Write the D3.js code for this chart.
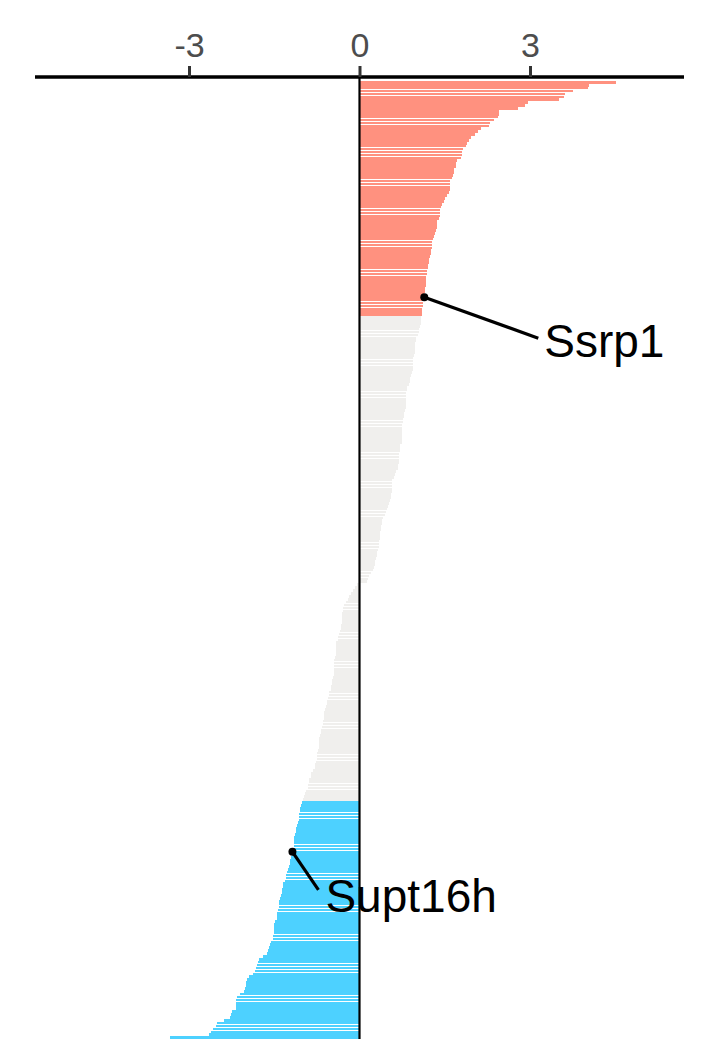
<!DOCTYPE html>
<html>
<head>
<meta charset="utf-8">
<script src="https://cdn.jsdelivr.net/npm/d3@7"></script>
<style>
  html, body { margin: 0; padding: 0; background: #ffffff; }
  svg { display: block; font-family: "Liberation Sans", Arial, sans-serif; }
</style>
</head>
<body>
<svg id="chart" width="708" height="1062"></svg>
<script>
// ---- data (ranked log fold changes) ----
const upValues = [
  4.52, 4.04, 4.02, 3.76, 3.62, 3.60, 3.51, 2.97, 2.91, 2.79,
  2.45, 2.45, 2.43, 2.36, 2.30, 2.27, 2.13, 2.08, 2.03, 1.97,
  1.92, 1.90, 1.87, 1.83, 1.81, 1.80, 1.78, 1.72, 1.69, 1.69,
  1.67, 1.66, 1.64, 1.62, 1.60, 1.60, 1.59, 1.59, 1.58, 1.54,
  1.50, 1.48, 1.46, 1.43, 1.42, 1.41, 1.41, 1.40, 1.37, 1.37,
  1.36, 1.34, 1.33, 1.31, 1.30, 1.28, 1.28, 1.27, 1.26, 1.25,
  1.24, 1.23, 1.22, 1.21, 1.21, 1.19, 1.18, 1.17, 1.17, 1.17,
  1.17, 1.16, 1.15, 1.14, 1.14, 1.12, 1.12, 1.11, 1.10, 1.10,
  1.10
];
const neutralValues = [
  1.09, 1.09, 1.08, 1.07, 1.05, 1.04, 1.03, 1.00, 0.99, 0.98,
  0.97, 0.97, 0.97, 0.96, 0.95, 0.95, 0.95, 0.95, 0.95, 0.93,
  0.91, 0.89, 0.88, 0.87, 0.84, 0.83, 0.82, 0.82, 0.82, 0.82,
  0.82, 0.81, 0.80, 0.79, 0.78, 0.77, 0.76, 0.75, 0.75, 0.75,
  0.75, 0.75, 0.75, 0.74, 0.72, 0.71, 0.71, 0.70, 0.70, 0.70,
  0.69, 0.68, 0.67, 0.65, 0.62, 0.60, 0.58, 0.58, 0.57, 0.57,
  0.57, 0.56, 0.56, 0.54, 0.52, 0.50, 0.49, 0.46, 0.44, 0.42,
  0.40, 0.39, 0.38, 0.37, 0.36, 0.36, 0.36, 0.35, 0.35, 0.34,
  0.32, 0.31, 0.30, 0.29, 0.28, 0.27, 0.25, 0.23, 0.21, 0.16,
  0.15, 0.14,
  -0.05, -0.08, -0.12, -0.15, -0.19, -0.21, -0.24, -0.28, -0.29, -0.29,
  -0.31, -0.31, -0.31, -0.31, -0.32, -0.32, -0.35, -0.36, -0.37, -0.37,
  -0.41, -0.41, -0.41, -0.41, -0.42, -0.43, -0.44, -0.44, -0.44, -0.44,
  -0.44, -0.45, -0.46, -0.49, -0.49, -0.51, -0.51, -0.53, -0.54, -0.55,
  -0.57, -0.58, -0.59, -0.60, -0.62, -0.62, -0.63, -0.64, -0.65, -0.66,
  -0.67, -0.68, -0.69, -0.71, -0.71, -0.72, -0.72, -0.73, -0.75, -0.75,
  -0.75, -0.76, -0.78, -0.79, -0.81, -0.85, -0.86, -0.88, -0.89, -0.90,
  -0.91, -0.94, -0.96, -0.97, -0.99
];
const downValues = [
  -1.02, -1.03, -1.04, -1.04, -1.06, -1.07, -1.07, -1.09, -1.10, -1.11,
  -1.12, -1.13, -1.15, -1.15, -1.15, -1.16, -1.17, -1.18, -1.19, -1.21,
  -1.22, -1.23, -1.24, -1.25, -1.28, -1.29, -1.30, -1.31, -1.34, -1.35,
  -1.36, -1.37, -1.39, -1.40, -1.41, -1.41, -1.42, -1.44, -1.45, -1.46,
  -1.46, -1.48, -1.50, -1.50, -1.50, -1.51, -1.52, -1.53, -1.55, -1.57,
  -1.60, -1.61, -1.63, -1.70, -1.77, -1.79, -1.81, -1.82, -1.84, -1.87,
  -1.95, -1.98, -1.99, -2.00, -2.01, -2.04, -2.10, -2.15, -2.17, -2.17,
  -2.17, -2.18, -2.24, -2.26, -2.28, -2.39, -2.50, -2.53, -2.57, -2.61,
  -2.64, -3.34
];
const tickValues = [-3, 0, 3];
const tickLabels = ["-3", "0", "3"];
const labelGenes = ["Ssrp1", "Supt16h"];
const labelRanks = [74, 265];

// ---- build rows ----
const rows = [];
upValues.forEach(v => rows.push({ value: v, group: "up" }));
neutralValues.forEach(v => rows.push({ value: v, group: "ns" }));
downValues.forEach(v => rows.push({ value: v, group: "down" }));
rows.forEach((d, i) => d.rank = i);
const categories = rows.map(d => d.rank);

const colors = { up: "#FF917F", ns: "#F0EFED", down: "#4DD1FF" };

const svg = d3.select("#chart");

const x = d3.scaleLinear().domain([-5.71, 5.71]).range([35, 684]);
const y = d3.scaleBand().domain(categories).range([81, 1039]).paddingInner(0.1).paddingOuter(0);

// bars
svg.append("g")
  .attr("shape-rendering", "crispEdges")
  .selectAll("rect")
  .data(rows)
  .join("rect")
  .attr("x", d => x(Math.min(0, d.value)))
  .attr("width", d => Math.abs(x(d.value) - x(0)))
  .attr("y", d => y(d.rank))
  .attr("height", y.bandwidth())
  .attr("fill", d => colors[d.group]);

// zero line
svg.append("line")
  .attr("x1", x(0)).attr("x2", x(0))
  .attr("y1", 77).attr("y2", 1039)
  .attr("stroke", "#000").attr("stroke-width", 2.2);

// top axis
const axis = d3.axisTop(x)
  .tickValues(tickValues)
  .tickFormat((d, i) => tickLabels[i])
  .tickSize(11)
  .tickPadding(9);
const gAxis = svg.append("g").attr("transform", "translate(0,77)").call(axis);
gAxis.select(".domain").attr("stroke", "#000").attr("stroke-width", 3.5)
  .attr("d", `M${x.range()[0]},0H${x.range()[1]}`);
gAxis.selectAll(".tick line").attr("stroke", "#333").attr("stroke-width", 3);
gAxis.selectAll(".tick text")
  .attr("fill", "#4D4D4D")
  .attr("font-size", 34)
  .attr("font-family", "'Liberation Sans', Arial, sans-serif");

// labels
const labelOffsets = [
  { lx: 114, ly: 41, tx: 120, ty: 60 },
  { lx: 26, ly: 38, tx: 33, ty: 60 }
];
labelGenes.forEach((g, k) => {
  const d = rows[labelRanks[k]];
  const cx = x(d.value);
  const cy = y(d.rank) + y.bandwidth() / 2;
  const o = labelOffsets[k];
  svg.append("line")
    .attr("x1", cx).attr("y1", cy)
    .attr("x2", cx + o.lx).attr("y2", cy + o.ly)
    .attr("stroke", "#000").attr("stroke-width", 3.2);
  svg.append("circle")
    .attr("cx", cx).attr("cy", cy).attr("r", 4)
    .attr("fill", "#000");
  svg.append("text")
    .attr("x", cx + o.tx).attr("y", cy + o.ty)
    .attr("font-size", 46)
    .attr("fill", "#000")
    .text(g);
});
</script>
</body>
</html>
